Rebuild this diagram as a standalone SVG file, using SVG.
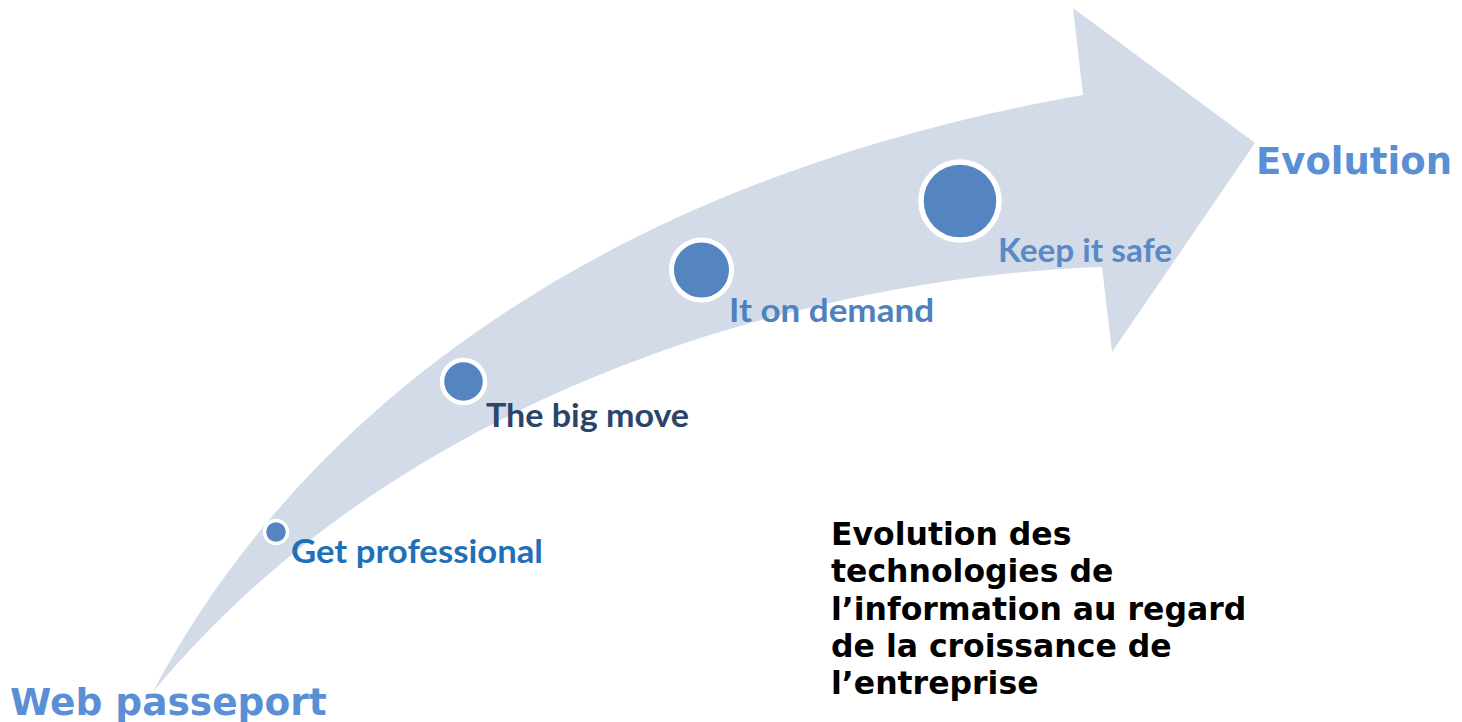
<svg xmlns="http://www.w3.org/2000/svg" width="1462" height="722" viewBox="0 0 1462 722">
<style>
.arrow{fill:#D3DBE9}
.dot{fill:#5585C0;stroke:#FFFFFF}
.lbl{font-family:Lato,"Open Sans","Liberation Sans",sans-serif;font-weight:bold;font-size:33px}
.big{font-family:"DejaVu Sans",sans-serif;font-weight:bold;fill:#5A8FD6}
.note{font-family:"DejaVu Sans",sans-serif;font-weight:bold;font-size:31.5px;fill:#000000}
</style>
<rect width="1462" height="722" fill="#FFFFFF"/>
<g id="connectors">
<path class="arrow" d="M153,692 C285,440 570,185 1083,95 L1073,8 L1255,143 L1112,352 L1102,267 C850,275 420,370 153,692 Z"/>
</g>
<g id="node-get-professional">
<circle class="dot" cx="276" cy="532" r="11.5" stroke-width="3.5"/>
<text class="lbl" x="291" y="563" fill="#1F70B8" textLength="252" lengthAdjust="spacingAndGlyphs">Get professional</text>
</g>
<g id="node-big-move">
<circle class="dot" cx="463.5" cy="381.5" r="21.5" stroke-width="4.5"/>
<text class="lbl" x="486" y="427" fill="#2B4568" textLength="203" lengthAdjust="spacingAndGlyphs">The big move</text>
</g>
<g id="node-it-on-demand">
<circle class="dot" cx="701.5" cy="270" r="30" stroke-width="5"/>
<text class="lbl" x="729" y="322" fill="#4F81BD" textLength="205" lengthAdjust="spacingAndGlyphs">It on demand</text>
</g>
<g id="node-keep-it-safe">
<circle class="dot" cx="960" cy="201" r="39" stroke-width="5.5"/>
<text class="lbl" x="998" y="262" fill="#5A8AC6" textLength="174" lengthAdjust="spacingAndGlyphs">Keep it safe</text>
</g>
<g id="node-evolution">
<text class="big" x="1256" y="174" font-size="37">Evolution</text>
</g>
<g id="node-web-passeport">
<text class="big" x="10" y="715" font-size="37.5">Web passeport</text>
</g>
<g id="node-caption">
<text class="note" x="831" y="545">Evolution des</text>
<text class="note" x="831" y="582">technologies de</text>
<text class="note" x="831" y="620">l’information au regard</text>
<text class="note" x="831" y="657">de la croissance de</text>
<text class="note" x="831" y="694">l’entreprise</text>
</g>
</svg>
